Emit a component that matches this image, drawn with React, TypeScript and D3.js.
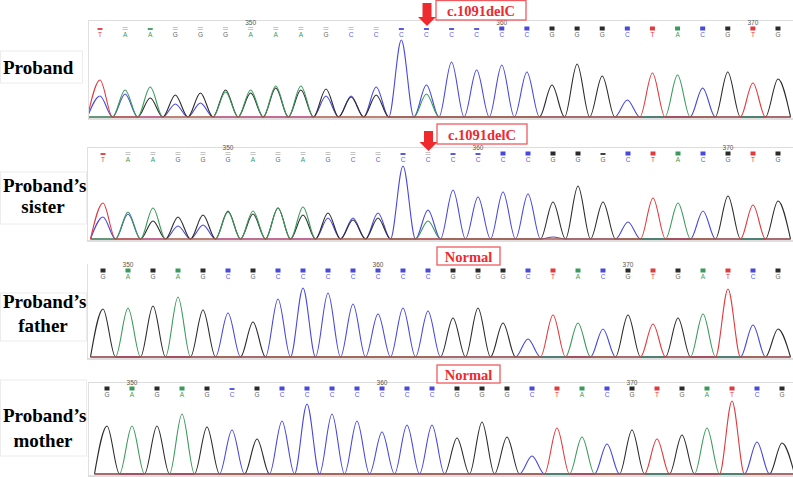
import React from "react";
import * as d3 from "d3";

// ---------- DATA ----------
const probandBases = "TAAGGGAAAGCCCCCCCCGGGCTACGTG";
const probandA = [0, 27, 30, 0, 0, 25, 27, 31, 31, 0, 0, 0, 0, 23, 0, 0, 0, 0, 0, 0, 0, 0, 0, 42, 0, 0, 0, 0];
const probandC = [21, 23, 0, 13, 14, 0, 0, 0, 0, 21, 21, 30, 77, 32, 55, 47, 52, 45, 0, 0, 0, 17, 0, 0, 29, 0, 0, 0];
const probandG = [0, 0, 19, 22, 24, 27, 24, 29, 27, 28, 20, 22, 0, 0, 0, 0, 0, 0, 32, 53, 41, 0, 0, 0, 0, 45, 0, 38];
const probandT = [37, 0, 0, 0, 0, 0, 0, 0, 0, 0, 0, 0, 0, 0, 0, 0, 0, 0, 0, 0, 0, 0, 44, 0, 0, 0, 34, 0];
const probandMarks = "dpdppppppppp" + "ddddssssssssssss";
const probandTicks = [6, 16, 26];

const sisterBases = "TAAGGGAGAGCCCCCCCCGGGCTACGTG";
const sisterA = [0, 27, 31, 0, 0, 27, 28, 31, 32, 0, 0, 0, 0, 18, 0, 0, 0, 0, 0, 0, 0, 0, 0, 36, 0, 0, 0, 0];
const sisterC = [22, 25, 0, 13, 14, 0, 0, 0, 0, 21, 21, 26, 73, 29, 49, 42, 47, 45, 2, 0, 0, 17, 0, 0, 28, 0, 0, 0];
const sisterG = [0, 0, 18, 22, 24, 28, 25, 31, 24, 26, 19, 21, 0, 0, 0, 0, 0, 0, 37, 53, 37, 0, 0, 0, 0, 43, 0, 38];
const sisterT = [36, 0, 0, 0, 0, 0, 0, 0, 0, 0, 0, 0, 0, 0, 0, 0, 0, 0, 0, 0, 0, 0, 41, 0, 0, 0, 34, 0];
const sisterMarks = "dppppppppppp" + "dpddssssdsssssss";
const sisterTicks = [5, 15, 25];

const fatherBases = "GAGAGCGCCCCCCCGGGCTACGTGATCG";
const fatherA = [0, 49, 0, 60, 0, 0, 0, 0, 0, 0, 0, 0, 0, 0, 0, 0, 0, 0, 0, 34, 0, 0, 0, 0, 43, 0, 0, 0];
const fatherC = [0, 0, 0, 0, 0, 44, 0, 58, 69, 64, 53, 43, 49, 46, 0, 0, 0, 18, 0, 0, 28, 0, 0, 0, 0, 0, 32, 0];
const fatherG = [48, 0, 51, 0, 47, 0, 35, 0, 0, 0, 0, 0, 0, 0, 39, 49, 34, 0, 0, 0, 0, 42, 0, 39, 0, 0, 0, 28];
const fatherT = [0, 0, 0, 0, 0, 0, 0, 0, 0, 0, 0, 0, 0, 0, 0, 0, 0, 0, 42, 0, 0, 0, 33, 0, 0, 68, 0, 0];
const fatherMarks = "ssssssssssssssssssssssssssss";
const fatherTicks = [1, 11, 21];

const motherBases = "GAGAGCGCCCCCCCGGGCTACGTGATCG";
const motherA = [0, 48, 0, 60, 0, 0, 0, 0, 0, 0, 0, 0, 0, 0, 0, 0, 0, 0, 0, 37, 0, 0, 0, 0, 46, 0, 0, 0];
const motherC = [0, 0, 0, 0, 0, 44, 0, 53, 70, 60, 53, 42, 49, 49, 0, 0, 0, 18, 0, 0, 30, 0, 0, 0, 0, 0, 32, 0];
const motherG = [48, 0, 48, 0, 47, 0, 35, 0, 0, 0, 0, 0, 0, 0, 36, 52, 37, 0, 0, 0, 0, 44, 0, 39, 0, 0, 0, 31];
const motherT = [0, 0, 0, 0, 0, 0, 0, 0, 0, 0, 0, 0, 0, 0, 0, 0, 0, 0, 46, 0, 0, 0, 35, 0, 0, 73, 0, 0];
const motherMarks = "sssssdssssssssssssssssssssss";
const motherTicks = [1, 11, 21];

const tickLabels = ["350", "360", "370"];
const sampleLabels = [["Proband"], ["Proband\u2019s", "sister"], ["Proband\u2019s", "father"], ["Proband\u2019s", "mother"]];
const annotationTexts = ["c.1091delC", "c.1091delC", "Normal", "Normal"];

// ---------- STYLE / LAYOUT ----------
const W = 793;
const H = 477;
const traceColor: Record<string, string> = { A: "#3a9a5c", C: "#4848dc", G: "#2b2b2b", T: "#e03a3e" };
const letterColor: Record<string, string> = { A: "#3a9a5c", C: "#5a5ae0", G: "#666", T: "#e03a3e" };
const RED = "#ee2a2f";
const SERIF = "'Liberation Serif', 'Times New Roman', serif";

const panels = [
  {
    bases: probandBases, A: probandA, C: probandC, G: probandG, T: probandT, marks: probandMarks, ticks: probandTicks,
    x0: 100, x1: 778, base: 117, frameTop: 20, frameLeft: 88, markY: 28, showTop: true,
    label: { y: [74], box: [0.5, 51, 82, 32] },
    ann: { x: 436, y: 0.5, w: 90, h: 19.5, ty: 15.5, arrow: { cx: 427, top: 3, headY: 17, tip: 26 } },
  },
  {
    bases: sisterBases, A: sisterA, C: sisterC, G: sisterG, T: sisterT, marks: sisterMarks, ticks: sisterTicks,
    x0: 103, x1: 778, base: 239, frameTop: 147, frameLeft: 87, markY: 153, showTop: true,
    label: { y: [192, 213], box: [0.5, 172, 86, 52] },
    ann: { x: 437, y: 124, w: 90, h: 20, ty: 139.5, arrow: { cx: 428.5, top: 131, headY: 142, tip: 151 } },
  },
  {
    bases: fatherBases, A: fatherA, C: fatherC, G: fatherG, T: fatherT, marks: fatherMarks, ticks: fatherTicks,
    x0: 103, x1: 778, base: 357, frameTop: 264, frameLeft: 87, markY: 270, showTop: false,
    label: { y: [308, 332], box: [0.5, 293, 86, 48] },
    ann: { x: 437, y: 247, w: 63, h: 18, ty: 261.5, arrow: null },
  },
  {
    bases: motherBases, A: motherA, C: motherC, G: motherG, T: motherT, marks: motherMarks, ticks: motherTicks,
    x0: 107, x1: 782, base: 474, frameTop: 382, frameLeft: 88, markY: 388, showTop: true,
    label: { y: [422, 447], box: [0.5, 380, 86, 76] },
    ann: { x: 437, y: 365, w: 63, h: 18, ty: 379.5, arrow: null },
  },
];

function Panel({ p, idx }: { p: any; idx: number }) {
  const n = p.bases.length;
  const xs = d3.scaleLinear().domain([0, n - 1]).range([p.x0, p.x1]);
  const ys = d3.scaleLinear().domain([0, 100]).range([p.base, p.base - 100]);
  const line = d3
    .line<[number, number]>()
    .x((d) => xs(d[0]))
    .y((d) => ys(d[1]))
    .curve(d3.curveMonotoneX);
  const trace = (vals: number[]) => {
    const pts: [number, number][] = [[-0.5, 0]];
    vals.forEach((v, i) => {
      pts.push([i, v]);
      pts.push([i + 0.5, 0]);
    });
    return line(pts) || "";
  };
  const clipId = `clip${idx}`;
  const order: ("C" | "G" | "A" | "T")[] = ["C", "G", "A", "T"];
  const labelLines: string[] = sampleLabels[idx];
  return (
    <g>
      {/* faint label box */}
      <rect x={p.label.box[0]} y={p.label.box[1]} width={p.label.box[2]} height={p.label.box[3]} fill="none" stroke="#ececec" strokeWidth={1} />
      {labelLines.map((t, i) => (
        <text
          key={i}
          x={labelLines.length === 1 ? 3 : i === 0 ? 3 : 43}
          y={p.label.y[i]}
          textAnchor={labelLines.length === 1 || i === 0 ? "start" : "middle"}
          fontFamily={SERIF}
          fontWeight="bold"
          fontSize={19}
          fill="#000"
        >
          {t}
        </text>
      ))}
      {/* frame */}
      {p.showTop && <line x1={p.frameLeft} x2={W} y1={p.frameTop + 0.5} y2={p.frameTop + 0.5} stroke="#dcdcdc" strokeWidth={1} />}
      <line x1={p.frameLeft + 0.5} x2={p.frameLeft + 0.5} y1={p.frameTop} y2={p.base + 2} stroke="#e0e0e0" strokeWidth={1} />
      <line x1={p.frameLeft} x2={W} y1={p.base + 2} y2={p.base + 2} stroke="#d4d4d4" strokeWidth={1.5} />
      {/* tick labels */}
      {p.ticks.map((ti: number, k: number) => (
        <text key={k} x={xs(ti)} y={p.markY - 3} textAnchor="middle" fontFamily="'Liberation Sans', Arial, sans-serif" fontSize={6.5} fill="#555">
          {tickLabels[k]}
        </text>
      ))}
      {/* base markers and letters */}
      {p.bases.split("").map((b: string, i: number) => {
        const kind = p.marks[i];
        const cx = xs(i);
        return (
          <g key={i}>
            {kind === "s" && <rect x={cx - 2.5} y={p.markY - 1.5} width={5} height={4} fill={traceColor[b]} />}
            {kind === "d" && <rect x={cx - 2.5} y={p.markY} width={5} height={2} fill={traceColor[b]} opacity={0.9} />}
            {kind === "p" && (
              <g fill="#c4c4c4">
                <rect x={cx - 2.5} y={p.markY - 1} width={5} height={1} />
                <rect x={cx - 2.5} y={p.markY + 1} width={5} height={1} />
              </g>
            )}
            <text x={cx} y={p.markY + 9} textAnchor="middle" fontFamily="'Liberation Sans', Arial, sans-serif" fontSize={6.5} fill={letterColor[b]}>
              {b}
            </text>
          </g>
        );
      })}
      {/* traces */}
      <clipPath id={clipId}>
        <rect x={p.frameLeft + 1} y={p.frameTop} width={W - p.frameLeft - 1} height={p.base - p.frameTop + 2} />
      </clipPath>
      <g clipPath={`url(#${clipId})`}>
        {order.map((ch) => (
          <path key={ch} d={trace(p[ch])} fill="none" stroke={traceColor[ch]} strokeWidth={1.1} strokeLinejoin="round" />
        ))}
      </g>
      {/* annotation */}
      <rect x={p.ann.x} y={p.ann.y} width={p.ann.w} height={p.ann.h} fill="#fff" stroke="#f05a5e" strokeWidth={1.3} />
      <text x={p.ann.x + p.ann.w / 2} y={p.ann.ty} textAnchor="middle" fontFamily={SERIF} fontWeight="bold" fontSize={14.5} fill={RED}>
        {annotationTexts[idx]}
      </text>
      {p.ann.arrow && (
        <g fill={RED}>
          <rect x={p.ann.arrow.cx - 4.5} y={p.ann.arrow.top} width={9} height={p.ann.arrow.headY - p.ann.arrow.top + 0.5} />
          <polygon
            points={`${p.ann.arrow.cx - 9},${p.ann.arrow.headY} ${p.ann.arrow.cx + 9},${p.ann.arrow.headY} ${p.ann.arrow.cx},${p.ann.arrow.tip}`}
          />
        </g>
      )}
    </g>
  );
}

export default function App() {
  return (
    <div style={{ width: W, height: H }}>
      <style>{"body{margin:0;background:#fff}"}</style>
      <svg width={W} height={H} viewBox={`0 0 ${W} ${H}`} style={{ display: "block", background: "#fff" }}>
        {panels.map((p, i) => (
          <Panel key={i} p={p} idx={i} />
        ))}
      </svg>
    </div>
  );
}
